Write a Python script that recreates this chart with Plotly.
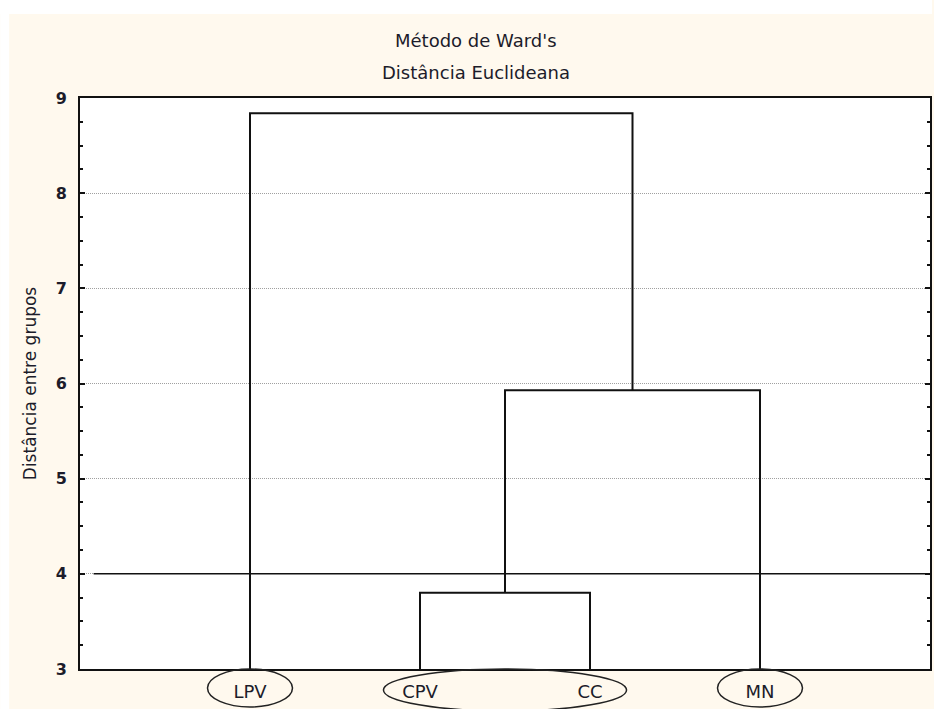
import plotly.graph_objects as go

# Leaves of the dendrogram (left to right) and their x positions
leaf_names = ["LPV", "CPV", "CC", "MN"]
leaf_pos = [1, 2, 3, 4]

# Linkage heights (Ward's method, Euclidean distance)
merge_cpv_cc = 3.80
merge_with_mn = 5.93
merge_with_lpv = 8.84

# Cut level
cut_height = 4.0

y_min, y_max = 3, 9
x_min, x_max = 0, 5

black = "#111111"
fig = go.Figure()

def link(xl, yl_base, xr, yr_base, h):
    fig.add_trace(go.Scatter(
        x=[xl, xl, xr, xr], y=[yl_base, h, h, yr_base],
        mode="lines", line=dict(color=black, width=2),
        hoverinfo="skip", showlegend=False))

# CPV + CC
link(leaf_pos[1], y_min, leaf_pos[2], y_min, merge_cpv_cc)
c1 = (leaf_pos[1] + leaf_pos[2]) / 2
# (CPV,CC) + MN
link(c1, merge_cpv_cc, leaf_pos[3], y_min, merge_with_mn)
c2 = (c1 + leaf_pos[3]) / 2
# LPV + rest
link(leaf_pos[0], y_min, c2, merge_with_mn, merge_with_lpv)

# Cut line
fig.add_trace(go.Scatter(
    x=[0.08, x_max], y=[cut_height, cut_height], mode="lines",
    line=dict(color=black, width=1.5), hoverinfo="skip", showlegend=False))

W, H = 934, 709
ml, mr, mt, mb = 80, 2, 98, 40
pw, ph = W - ml - mr, H - mt - mb

def px(x):
    return (x - x_min) / (x_max - x_min)

shapes = []
# White strips at the top and left edge of the page
shapes.append(dict(type="rect", xref="paper", yref="paper",
                   x0=-ml / pw, x1=1 + mr / pw, y0=1 + (mt - 14) / ph, y1=1 + mt / ph,
                   fillcolor="white", line=dict(width=0), layer="below"))
shapes.append(dict(type="rect", xref="paper", yref="paper",
                   x0=-ml / pw, x1=(9 - ml) / pw, y0=-mb / ph, y1=1 + mt / ph,
                   fillcolor="white", line=dict(width=0), layer="below"))

# Ellipses grouping the leaves
groups = [(leaf_pos[0], leaf_pos[0], 0.25, 38),
          (leaf_pos[1], leaf_pos[2], 0.215, 42),
          (leaf_pos[3], leaf_pos[3], 0.25, 38)]
for a, b, pad, hpx in groups:
    shapes.append(dict(type="circle", xref="paper", yref="paper",
                       x0=px(a - pad), x1=px(b + pad),
                       y0=-hpx / ph, y1=0.0,
                       line=dict(color="#222222", width=1.5),
                       fillcolor="rgba(0,0,0,0)", layer="above"))

font = "DejaVu Sans, Verdana, sans-serif"
txt = "#1c1c2a"
annotations = [
    dict(text="Método de Ward's", xref="paper", yref="paper",
         x=(477 - ml) / pw, y=1 + (mt - 40) / ph, yanchor="middle", xanchor="center",
         showarrow=False, font=dict(family=font, size=18, color=txt)),
    dict(text="Distância Euclideana", xref="paper", yref="paper",
         x=(477 - ml) / pw, y=1 + (mt - 72) / ph, yanchor="middle", xanchor="center",
         showarrow=False, font=dict(family=font, size=18, color=txt)),
]

fig.update_layout(
    width=W, height=H,
    margin=dict(l=ml, r=mr, t=mt, b=mb),
    paper_bgcolor="#FFF9EE",
    plot_bgcolor="white",
    shapes=shapes,
    annotations=annotations,
    font=dict(family=font, color=txt),
    showlegend=False,
)

fig.update_xaxes(
    range=[x_min, x_max], tickvals=leaf_pos, ticktext=leaf_names,
    ticks="", showgrid=False, zeroline=False,
    showline=True, linecolor=black, linewidth=2, mirror=True,
    tickfont=dict(family=font, size=18, color=txt),
    ticklabelstandoff=5,
)
fig.update_yaxes(
    range=[y_min, y_max], dtick=1, tick0=3,
    ticks="inside", ticklen=5, tickcolor=black, tickwidth=2,
    minor=dict(dtick=0.25, ticks="inside", ticklen=3, tickcolor=black, tickwidth=1.5, showgrid=False),
    showgrid=True, gridcolor="#a0a0a0", griddash="1px,1px", gridwidth=1,
    zeroline=False, showline=True, linecolor=black, linewidth=2, mirror="ticks",
    tickfont=dict(family=font, size=16, color=txt, weight="bold"),
    ticklabelstandoff=8,
    title=dict(text="Distância entre grupos",
               font=dict(family=font, size=17, color=txt),
               standoff=15),
)

fig.write_html("out.html")
